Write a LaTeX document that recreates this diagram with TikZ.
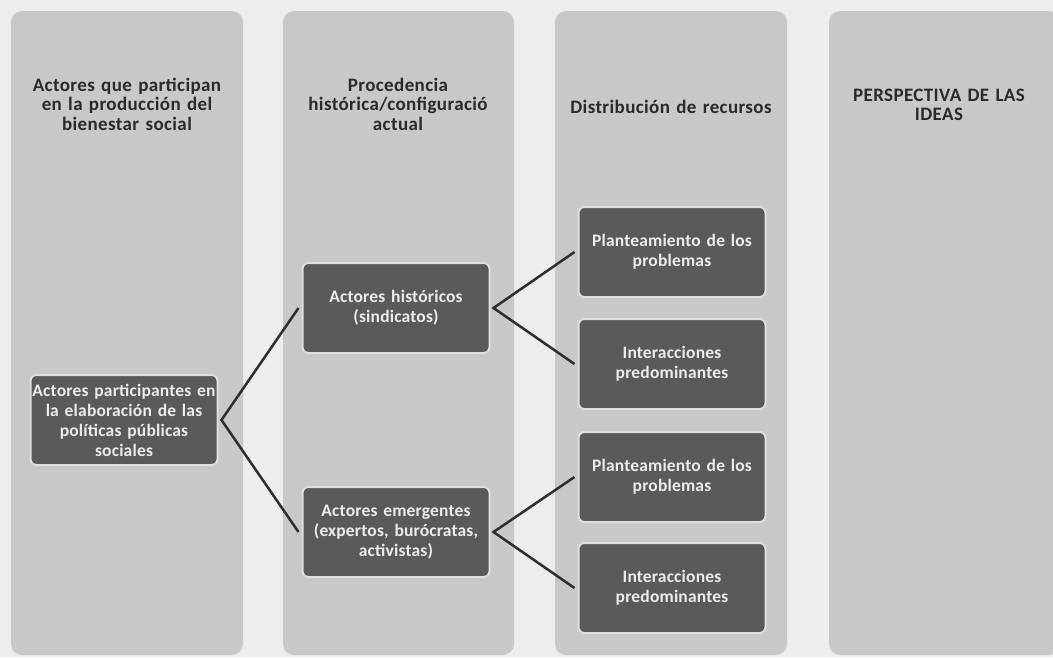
\documentclass[tikz,border=0pt]{standalone}
\usepackage{fontspec}
\setmainfont{Carlito}
\newfontfamily\headfont[LetterSpace=2]{Carlito}
\newfontfamily\boxfont[LetterSpace=1]{Carlito}
\definecolor{bgc}{HTML}{EDEDED}
\definecolor{colc}{HTML}{C8C8C8}
\definecolor{boxc}{HTML}{5A5A5A}
\definecolor{haloc}{HTML}{DEDEDE}
\definecolor{boxtxt}{HTML}{ECECEC}
\definecolor{headtxt}{HTML}{2A2A2A}
\definecolor{linec}{HTML}{2E2E2E}
\tikzset{
  column/.style={fill=colc, rounded corners=11pt},
  header/.style={text=headtxt, font=\headfont\bfseries\fontsize{19}{19.5}\selectfont, align=center, text width=226pt, inner sep=0pt},
  darkbox/.style={fill=boxc, draw=haloc, line width=2pt, rounded corners=6pt, minimum width=187pt, minimum height=90pt, text width=187pt, align=center, text=boxtxt, font=\boxfont\bfseries\fontsize{17.5}{20}\selectfont, inner sep=0pt, outer sep=4pt},
  conn/.style={draw=linec, line width=2.5pt}
}
\begin{document}
\begin{tikzpicture}[x=1pt,y=-1pt]
\clip (0,0) rectangle (1053,657);
\fill[bgc] (0,0) rectangle (1053,657);
% columns
\fill[column] (11,11) rectangle (243,655);
\fill[column] (283,11) rectangle (514,655);
\fill[column] (555,11) rectangle (787,655);
\fill[column] (829,11) rectangle (1060,655);
% headers
\node[header] (h1) at (127,104) {Actores que participan\\en  la producción del\\bienestar social};
\node[header] (h2) at (398,104) {Procedencia\\histórica/configuració\\actual};
\node[header] (h3) at (671,107) {Distribución de recursos};
\node[header] (h4) at (939,105) {PERSPECTIVA DE LAS\\IDEAS};
% boxes
\node[darkbox] (a) at (124,420) {Actores participantes en\\la elaboración de las\\políticas públicas\\sociales};
\node[darkbox] (b1) at (396,308) {Actores históricos\\(sindicatos)};
\node[darkbox] (b2) at (396,532) {Actores emergentes\\(expertos, burócratas,\\activistas)};
\node[darkbox] (c1) at (672,252) {Planteamiento de los\\problemas};
\node[darkbox] (c2) at (672,364) {Interacciones\\predominantes};
\node[darkbox] (c3) at (672,477) {Planteamiento de los\\problemas};
\node[darkbox] (c4) at (672,588) {Interacciones\\predominantes};
% connectors
\draw[conn] (b1.west) -- (a.east) -- (b2.west);
\draw[conn] (c1.west) -- (b1.east) -- (c2.west);
\draw[conn] (c3.west) -- (b2.east) -- (c4.west);
\end{tikzpicture}
\end{document}
